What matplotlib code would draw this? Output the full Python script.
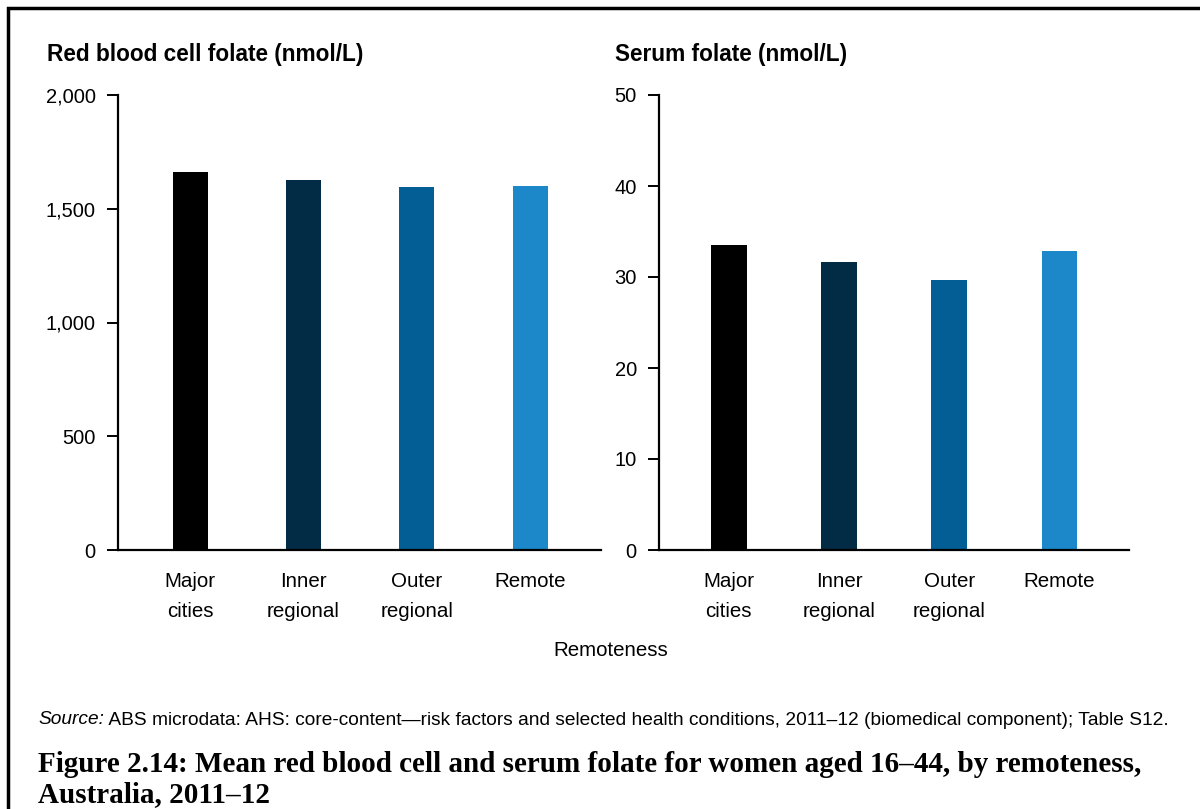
import matplotlib
matplotlib.use('Agg')
import matplotlib.pyplot as plt
from matplotlib.patches import Rectangle
from matplotlib.ticker import FuncFormatter

categories = ['Major\ncities', 'Inner\nregional', 'Outer\nregional', 'Remote']
rbc_folate = [1660, 1626, 1596, 1598]
serum_folate = [33.5, 31.7, 29.7, 32.9]
bar_colors = ['#000000', '#022b45', '#025e94', '#1c88ca']

plt.rcParams['font.family'] = ['Liberation Sans', 'DejaVu Sans']

W, H = 1200, 809
fig = plt.figure(figsize=(W / 100, H / 100), dpi=100)

# frame round the whole figure
fig.patches.append(Rectangle((8 / W, -0.1), 1.2, (H - 8) / H + 0.1,
                             transform=fig.transFigure, fill=False,
                             edgecolor='black', linewidth=2.5))


def px(x0, x1, y0, y1):
    return [x0 / W, (H - y1) / H, (x1 - x0) / W, (y1 - y0) / H]


def style(ax, ymax, step, xlim):
    ax.set_xlim(*xlim)
    ax.set_ylim(0, ymax)
    ax.set_yticks(range(0, ymax + 1, step))
    ax.yaxis.set_major_formatter(FuncFormatter(lambda v, p: f'{int(v):,}'))
    for s in ['top', 'right']:
        ax.spines[s].set_visible(False)
    ax.spines['left'].set_linewidth(1.6)
    ax.spines['bottom'].set_linewidth(1.6)
    ax.tick_params(axis='y', direction='out', length=8, width=1.4,
                   labelsize=14.5, pad=8)
    ax.tick_params(axis='x', length=0, labelsize=14.8, pad=16)
    ax.set_xticks(range(len(categories)))
    ax.set_xticklabels(categories, linespacing=1.75)


x = list(range(len(categories)))

ax1 = fig.add_axes(px(118, 601, 95, 550))
ax1.bar(x, rbc_folate, width=0.31, color=bar_colors, edgecolor='none')
style(ax1, 2000, 500, (-0.637, 3.626))

ax2 = fig.add_axes(px(659, 1129, 95, 550))
ax2.bar(x, serum_folate, width=0.325, color=bar_colors, edgecolor='none')
style(ax2, 50, 10, (-0.632, 3.63))

fig.text(47 / W, 1 - 54 / H, 'Red blood cell folate (nmol/L)',
         fontsize=16.3, fontweight='bold', va='center', ha='left')
fig.text(615 / W, 1 - 54 / H, 'Serum folate (nmol/L)',
         fontsize=16.3, fontweight='bold', va='center', ha='left')
fig.text(611 / W, 1 - 650 / H, 'Remoteness', fontsize=14.8,
         ha='center', va='center')

src = fig.text(38 / W, 1 - 720 / H, 'Source:', fontsize=13.8, style='italic',
               ha='left', va='center')
fig.canvas.draw()
bb = src.get_window_extent()
fig.text(bb.x1 / W, (bb.y0 + 0.22 * bb.height) / H,
         ' ABS microdata: AHS: core-content\u2014risk factors and selected '
         'health conditions, 2011\u201312 (biomedical component); Table S12.',
         fontsize=13.8, ha='left', va='baseline')

cap_font = dict(fontsize=21, fontweight='bold', family='Liberation Serif',
                ha='left', va='center')
fig.text(38 / W, 1 - 765 / H,
         'Figure 2.14: Mean red blood cell and serum folate for women aged 16\u201344, by remoteness,',
         **cap_font)
fig.text(38 / W, 1 - 795 / H, 'Australia, 2011\u201312', **cap_font)

fig.savefig('out.png', dpi=100)
